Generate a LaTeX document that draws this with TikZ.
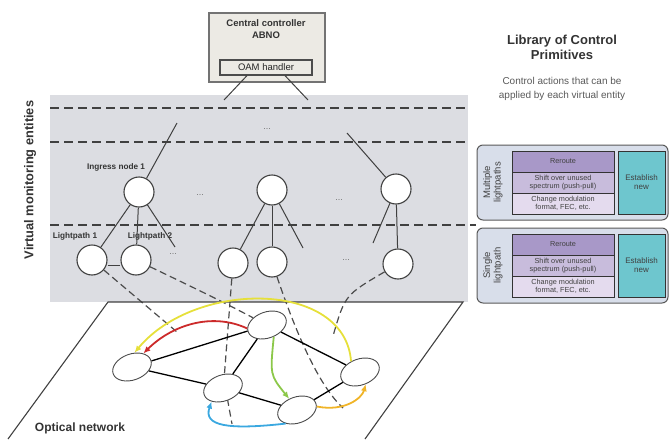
\documentclass[tikz,border=0pt]{standalone}
\usepackage{fontspec}
\setmainfont{Liberation Sans}
\usetikzlibrary{arrows.meta,shapes.geometric}

\definecolor{vgray}{HTML}{DCDDE2}
\definecolor{ctrlfill}{HTML}{ECEAE4}
\definecolor{libfill}{HTML}{D8DEEA}
\definecolor{reroute}{HTML}{A898C8}
\definecolor{shiftc}{HTML}{C8BCDC}
\definecolor{changec}{HTML}{E4DBEE}
\definecolor{estab}{HTML}{6EC6CE}
\definecolor{lyellow}{HTML}{E6E03A}
\definecolor{lred}{HTML}{CC2A2A}
\definecolor{lgreen}{HTML}{8CC84A}
\definecolor{lblue}{HTML}{3AA8E0}
\definecolor{lorange}{HTML}{F0B428}

\newcommand{\fsz}[2]{\fontsize{#1}{#2}\selectfont}

\begin{document}
\begin{tikzpicture}[x=1pt,y=-1pt,>=Latex,
  vnode/.style={circle,draw=black!75,line width=1.1pt,fill=white,minimum size=30pt,inner sep=0pt},
  onode/.style={ellipse,draw=black!70,line width=0.9pt,fill=white,minimum width=40pt,minimum height=26pt,inner sep=0pt,rotate=20},
  wire/.style={black!75,line width=1pt},
  link/.style={black,line width=1.3pt},
  vdash/.style={black!70,line width=1.2pt,dash pattern=on 7pt off 4pt},
  layer/.style={black!75,line width=1.4pt,dash pattern=on 9pt off 5pt},
  route/.style={line width=1.8pt,-{Latex[length=7pt,width=6pt]}},
  lbl/.style={font=\fsz{8.2}{9}\bfseries,text=black!80},
  dots/.style={font=\fsz{9}{9},text=black!55},
  libbox/.style={draw=black!65,line width=1pt,fill=libfill,rounded corners=6pt,minimum width=191pt,minimum height=75pt},
  libcell/.style={draw=black!80,line width=0.9pt,minimum width=102pt,minimum height=21pt,inner sep=0pt,align=center,font=\fsz{7.3}{8},text=black!75},
]
  \useasboundingbox (0,0) rectangle (669,439);

  % controller
  \node[draw=black!55,line width=1.2pt,fill=ctrlfill,minimum width=116pt,minimum height=69pt] (ctrl) at (267,47.5) {};
  \node[font=\fsz{9.5}{12}\bfseries,align=center,text=black!80] (ctrltxt) at (266,29) {Central controller\\ABNO};
  \node[draw=black!70,line width=1.2pt,minimum width=92pt,minimum height=15pt,inner sep=0pt,font=\fsz{9.5}{10},text=black!85] (oam) at (266,67.5) {OAM handler};

  % virtual monitoring layers
  \fill[vgray] (50,95) rectangle (468,302);
  \draw[layer] (50,108) -- (468,108);
  \draw[layer] (50,142) -- (468,142);
  \draw[layer] (50,225) -- (476,225);
  \node[rotate=90,font=\fsz{12.8}{14}\bfseries,text=black!80] (vmlbl) at (30,180) {Virtual monitoring entities};

  \coordinate (tapL) at (224,100);
  \coordinate (tapR) at (308,100);
  \draw[wire] ([xshift=-19pt]oam.south) -- (tapL);
  \draw[wire] ([xshift=19pt]oam.south) -- (tapR);
  \node[dots] (d0) at (267,129) {...};

  \node[vnode] (ing1) at (139,192) {};
  \node[vnode] (ing2) at (272,190) {};
  \node[vnode] (ing3) at (396,189) {};
  \node[vnode] (lp1) at (92,260) {};
  \node[vnode] (lp2) at (136,260) {};
  \node[vnode] (lp3) at (233,263) {};
  \node[vnode] (lp4) at (272,262) {};
  \node[vnode] (lp5) at (398,264) {};

  \node[lbl] (ing1lbl) at (116,167) {Ingress node 1};
  \node[lbl] (lp1lbl) at (75,236) {Lightpath 1};
  \node[lbl] (lp2lbl) at (150,236) {Lightpath 2};
  \node[dots] (d1) at (200,195) {...};
  \node[dots] (d2) at (339,200) {...};
  \node[dots] (d3) at (173,254) {...};
  \node[dots] (d4) at (346,260) {...};

  \coordinate (up1) at (177,123);
  \coordinate (up3) at (347,133);
  \coordinate (fr1) at (175,247);
  \coordinate (fr2) at (303,248);
  \coordinate (fr3) at (373,243);
  \draw[wire] (up1) -- (ing1);
  \draw[wire] (up3) -- (ing3);
  \draw[wire] (ing1) -- (lp1);
  \draw[wire] (ing1) -- (lp2);
  \draw[wire] (ing1) -- (fr1);
  \draw[wire] (ing2) -- (lp3);
  \draw[wire] (ing2) -- (lp4);
  \draw[wire] (ing2) -- (fr2);
  \draw[wire] (ing3) -- (fr3);
  \draw[wire] (ing3) -- (lp5);
  \draw[wire] ([yshift=-5pt]lp1.east) -- ([yshift=-5pt]lp2.west);

  % lightpaths down to the network
  \coordinate (dn1) at (177,332);
  \coordinate (dn3) at (232,424);
  \coordinate (dn4) at (343,408);
  \coordinate (dn5) at (333,336);
  \draw[vdash] (lp1) -- (dn1);
  \draw[vdash] (lp3) -- (224,380) -- (dn3);
  \draw[vdash] (lp4) .. controls (295,330) and (318,385) .. (dn4);
  \draw[vdash] (lp5) .. controls (345,295) .. (dn5);

  % optical network
  \draw[black!75,line width=1.1pt] (8,439) -- (108,302) -- (463,302) -- (365,439);
  \node[font=\fsz{12}{14}\bfseries,text=black!80] (onlbl) at (80,428) {Optical network};

  \node[onode] (A) at (132,367) {};
  \node[onode] (B) at (267,325) {};
  \node[onode] (C) at (223,388) {};
  \node[onode] (D) at (297,410) {};
  \node[onode] (E) at (360,372) {};

  \draw[vdash] (lp2) .. controls (215,298) .. (B);

  \draw[link] (A) -- (B);
  \draw[link] (A) -- (C);
  \draw[link] (B) -- (C);
  \draw[link] (B) -- (E);
  \draw[link] (C) -- (D);
  \draw[link] (D) -- (E);

  \draw[route,lyellow] (E.110) .. controls (345,280) and (195,280) .. (A.60);
  \draw[route,lred] (B.170) .. controls (212,312) and (172,325) .. (A.30);
  \draw[route,lgreen] (B.-80) .. controls (270,375) .. (D.105);
  \draw[route,lblue] (D.-150) .. controls (228,430) and (203,426) .. (C.-150);
  \draw[route,lorange] (D.-10) .. controls (345,412) and (362,398) .. (E.-85);

  % library of control primitives
  \node[font=\fsz{13}{15}\bfseries,align=center,text=black!80] (libtitle) at (562,47) {Library of Control\\Primitives};
  \node[font=\fsz{10}{14.5},align=center,text=black!65] (libsub) at (562,89) {Control actions that can be\\applied by each virtual entity};

  \foreach \yc/\nm/\txt in {182.5/multi/{Multiple\\lightpaths},265.5/single/{Single\\lightpath}}{
    \node[libbox] (\nm) at (572.5,\yc) {};
    \node[rotate=90,align=center,font=\fsz{9.5}{10.5},text=black!75] (\nm-lbl) at (493,\yc) {\txt};
    \node[libcell,fill=reroute] (\nm-rr) at (563,\yc-21) {Reroute};
    \node[libcell,fill=shiftc] (\nm-sh) at (563,\yc) {Shift over unused\\spectrum (push-pull)};
    \node[libcell,fill=changec] (\nm-ch) at (563,\yc+21) {Change modulation\\format, FEC, etc.};
    \node[libcell,fill=estab,minimum width=47pt,minimum height=63pt,font=\fsz{8}{9}] (\nm-es) at (641.5,\yc) {Establish\\new};
  }
\end{tikzpicture}
\end{document}
